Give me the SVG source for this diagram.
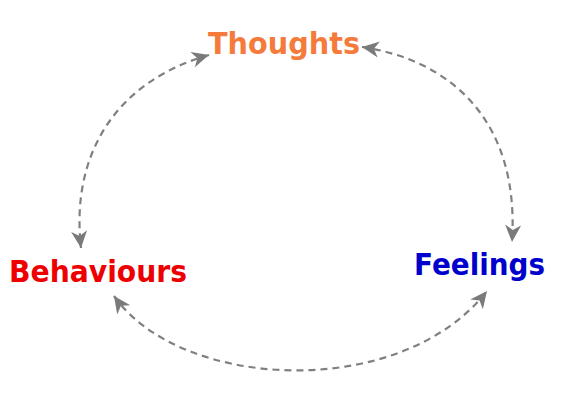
<svg xmlns="http://www.w3.org/2000/svg" width="573" height="408" viewBox="0 0 573 408">
<style>
.lbl{font-family:"DejaVu Sans",Verdana,sans-serif;font-weight:bold;font-size:31px}
.conn{fill:none;stroke:#808080;stroke-width:2.2;stroke-dasharray:7 5}
</style>
<defs>
<marker id="ah" markerUnits="userSpaceOnUse" viewBox="-18 -9 20 18" refX="0" refY="0" markerWidth="20" markerHeight="18" orient="auto-start-reverse">
<path d="M0,0 L-17,-8 L-12,0 L-17,8 Z" fill="#7a7a7a"/>
</marker>
</defs>
<rect width="573" height="408" fill="#ffffff"/>
<g id="connectors">
<path class="conn" d="M209,55 C120,80 70,150 81,248" marker-start="url(#ah)" marker-end="url(#ah)"/>
<path class="conn" d="M362,47 C450,60 520,120 512,242" marker-start="url(#ah)" marker-end="url(#ah)"/>
<path class="conn" d="M114,296 C180,390 400,402 487,291" marker-start="url(#ah)" marker-end="url(#ah)"/>
</g>
<g id="thoughts"><text class="lbl" x="208" y="54" textLength="152" lengthAdjust="spacingAndGlyphs" fill="#F47B3C">Thoughts</text></g>
<g id="behaviours"><text class="lbl" x="9" y="282" textLength="178" lengthAdjust="spacingAndGlyphs" fill="#EE0000">Behaviours</text></g>
<g id="feelings"><text class="lbl" x="414" y="275" textLength="131" lengthAdjust="spacingAndGlyphs" fill="#0000CC">Feelings</text></g>
</svg>
